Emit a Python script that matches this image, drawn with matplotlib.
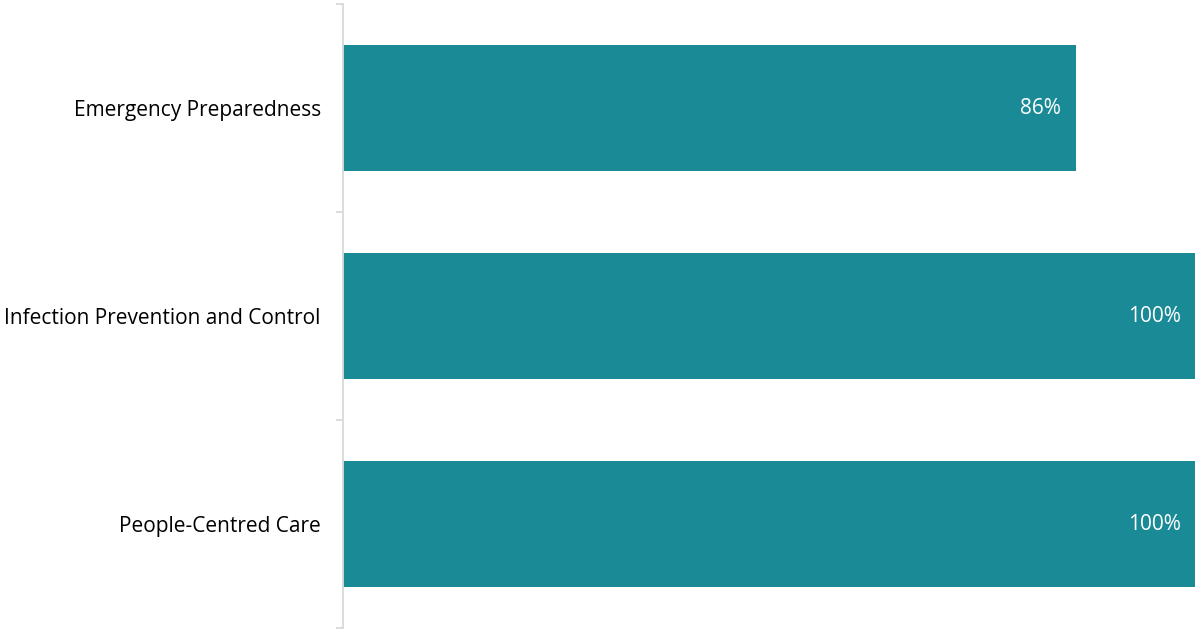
import matplotlib.pyplot as plt
import numpy as np

categories = ['Emergency Preparedness', 'Infection Prevention and Control', 'People-Centred Care']
values = [86, 100, 100]
labels = ['86%', '100%', '100%']

plt.rcParams['font.family'] = ['Open Sans', 'DejaVu Sans']

fig = plt.figure(figsize=(11.95, 6.31), dpi=100)
ax = fig.add_axes([343 / 1195, 1 - 628 / 631, 1 - 343 / 1195, 624 / 631])

y = np.arange(len(categories))
bars = ax.barh(y, values, height=0.605, color='#1A8A96')
ax.set_xlim(0, 100)
ax.set_ylim(len(categories) - 0.5, -0.5)

for b, lab in zip(bars, labels):
    ax.text(b.get_width() - 1.7, b.get_y() + b.get_height() / 2, lab,
            ha='right', va='center', color='white', fontsize=15)

ax.set_yticks(np.arange(len(categories) + 1) - 0.5)
ax.set_yticklabels([])
ax.set_yticks(y, minor=True)
ax.set_yticklabels(categories, minor=True, fontsize=15)
ax.tick_params(axis='y', which='major', length=5, color='#D9D9D9', width=1.3)
ax.tick_params(axis='y', which='minor', length=0, pad=16)
ax.set_xticks([])

for s in ['top', 'right', 'bottom']:
    ax.spines[s].set_visible(False)
ax.spines['left'].set_color('#D9D9D9')
ax.spines['left'].set_linewidth(1.3)

fig.savefig('out.png', dpi=100)
